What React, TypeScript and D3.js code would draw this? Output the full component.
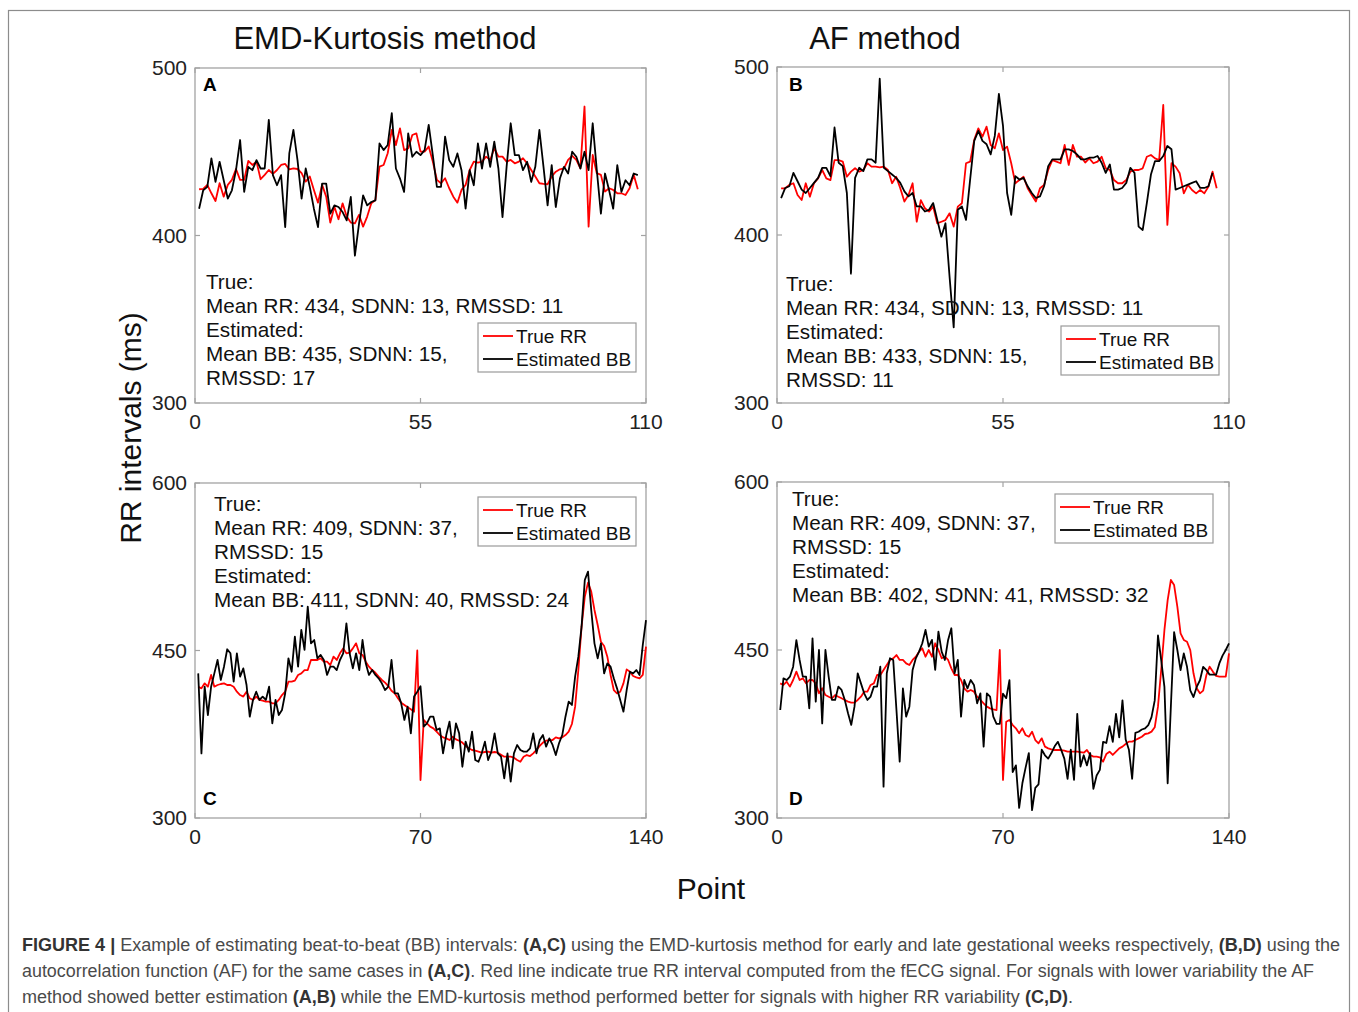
import React from "react";
import * as d3 from "d3";

// ---------- DATA ----------
const A_TRUE = [427.6, 427.8, 430.2, 425.2, 420.6, 431.2, 423.2, 430.2, 433.2, 439.7, 433.2, 433.2, 444.5, 442.1, 444.1, 433.6, 436.2, 439.1, 436.8, 439.1, 442.1, 442.7, 439.5, 440.1, 439.7, 437.2, 432.2, 435.2, 427.2, 419.6, 430.2, 423.2, 407.7, 417.2, 409.7, 419.2, 411.3, 407.7, 407.3, 412.3, 405.3, 411.3, 419.2, 421.2, 441.1, 442.1, 449.1, 463, 454, 464, 451, 452, 460,
  461, 450.1, 450.1, 453.1, 444.1, 433.2, 431.2, 434.2, 428.2, 423.2, 419.6, 427.2, 430.2, 439.1, 444.1, 443.5, 444.1, 447.1, 445.1, 452.1, 447.1, 447.1, 444.1, 445.1, 443.1, 444.1, 446.1, 443.1, 439.1, 435.2, 431.2, 430.8, 430.6, 435.2, 438.1, 439.5, 440.1, 445.1, 447.5, 445.1, 440.1, 477, 405.3, 448.1, 437.2, 436.2, 426.2, 428.2, 427.2, 425.2, 425.2, 424.2, 428.2, 436.2, 427.6];
const A_EST = [416, 427, 429, 446, 432, 444, 433, 422, 427, 439, 457, 426, 441, 439, 445, 440, 440, 469, 436, 430, 436, 405, 449, 463, 445, 422, 440, 429, 416, 405, 431, 431, 413, 418, 417, 414, 409, 423, 388, 407, 424, 418, 420, 421, 455, 451, 454, 473, 440, 434, 426, 461, 447,
  450, 448, 451, 466, 448, 429, 429, 459, 445, 441, 449, 439, 416, 439, 430, 455, 440, 455, 441, 456, 440, 411, 441, 467, 448, 448, 439, 444, 432, 441, 463, 441, 418, 442, 417, 434, 441, 437, 450, 447, 440, 450, 439, 467, 439, 413, 437, 427, 416, 442, 426, 433, 430, 437, 436];

const B_TRUE = [427.8, 427.8, 429.8, 430.8, 423.8, 420.8, 430.8, 422.8, 430.8, 433.7, 438.7, 433.7, 432.7, 444.6, 444.6, 443.7, 434.7, 437.7, 439.7, 437.7, 438.7, 442.7, 440.7, 440.7, 440.3, 440.7, 438.7, 430.8, 434.7, 427.8, 419.9, 423.8, 430.8, 407.9, 420.8, 415.9, 413.9, 416.9, 406.9, 407.9, 408.9, 412.9, 405, 416.9, 418.9, 442.7, 443.7, 456.6, 463.5, 458.5, 464.5, 453.6,
  451.6, 460.5, 450.6, 452.6, 442.7, 430.8, 432.7, 434.7, 427.8, 423.8, 419.9, 427.8, 429.8, 438.7, 444.6, 443.7, 442.7, 453.6, 441.7, 453.6, 446.6, 446.6, 443.1, 445.6, 442.7, 443.7, 446.6, 439.7, 438.7, 432.7, 430.8, 430.8, 432.7, 437.7, 438.7, 438.7, 439.7, 446.6, 447.6, 445.6, 444.6, 477.4, 406, 442.7, 440.7, 436.7, 424.8, 429.8, 426.8, 424.8, 426.8, 424.8, 428.8, 437.7, 427.8];
const B_EST = [422, 428, 429, 437, 432, 427, 425, 428, 431, 434, 440, 440, 435, 464, 443, 441, 425, 377, 434, 440, 438, 445, 445, 443, 493, 440, 438, 436, 434, 431, 426, 423, 425, 417, 417, 414, 415, 419, 409, 399, 407, 375, 345, 415, 417, 409, 433, 456, 462, 456, 454, 448,
  459, 484, 465, 425, 412, 435, 433, 434, 429, 425, 422, 423, 429, 441, 445, 445, 445, 451, 451, 450, 448, 445, 445, 446, 446, 447, 443, 437, 442, 427, 427, 428, 431, 440, 437, 405, 403, 419, 436, 444, 444, 447, 453, 451, 427, 428, 429, 430, 431, 432, 428, 428, 429, 437];

const C_TRUE = [417.6, 416.1, 420.6, 417.6, 428.1, 417.6, 419.1, 420, 420.6, 419.1, 419.1, 417.6, 413.1, 410.1, 408.7, 413.1, 407.2, 405.7, 408.7, 405.7, 405.1, 404.2, 404.2, 402.7, 402.7, 405.7, 410.1, 413.1, 422.1, 422.1, 423, 428.1, 429.5, 432.5, 432.5, 441.5, 441.5, 441.5, 443, 440, 440, 437, 444.5, 441.5, 447.5, 451.9, 447.5, 448.1, 451.9, 456.4, 447.5, 446, 440, 435.5, 432.5, 430.1, 426.6, 423.6, 421.2, 418.2, 414, 411.6, 407.2, 403.3, 401.2, 399.1, 397.3, 395.2, 450, 334,
  387.8, 384.8, 381.8, 380.3, 377.3, 374.3, 372.2, 371.3, 369.8, 372.8, 370.4, 369.2, 367.5, 364.5, 362.4, 360.9, 360.3, 359.4, 358.5, 359.1, 359.4, 358.5, 359.1, 358.5, 356.7, 354.9, 354.9, 354.9, 354, 351.9, 350.4, 354.9, 356.4, 355.5, 357.9, 360.9, 364.5, 367.5, 369.2, 369.8, 369.8, 372.2, 371.3, 372.2, 374.3, 377.3, 384.2, 399.7, 432.5, 471.3, 498.2, 510.8, 502.7, 486.3, 472.8, 457.9, 454, 444.5, 428.1, 414.6, 411.6, 413.1, 420.6, 433.1, 431, 427.2, 426, 425.1, 428.1, 453.4];
const C_EST = [429.5, 357.9, 417.6, 392.2, 417.6, 429.5, 441.5, 423.6, 435.5, 451.1, 447.5, 422.1, 447.5, 426.6, 434, 419.1, 390.7, 405.7, 413.1, 405.7, 408.7, 405.7, 417.6, 384.8, 405.7, 392.2, 396.7, 411.7, 443, 431, 462.4, 435.5, 468.4, 450.5, 489.3, 456.4, 459.4, 443, 446, 441.5, 428.1, 435.5, 435.5, 432.5, 441.5, 447.5, 474.3, 447.5, 434, 447.5, 432.5, 459.4, 438.5, 428.1, 432.5, 428.1, 425.1, 420.6, 414.6, 417.6, 441.5, 411.6, 411.6, 402.7, 387.8, 399.7, 375.8, 408.7, 413, 418,
  381.8, 384.8, 390.7, 390.7, 378.8, 380.3, 357.9, 374.3, 386.3, 362.4, 384.8, 375.8, 345.9, 368.4, 359.4, 377.3, 351.9, 350.4, 357.9, 368.4, 351.9, 359.4, 375.8, 357.9, 354.9, 335.5, 357.9, 332.5, 357.9, 365.4, 360.9, 359.4, 359.4, 362.4, 375.8, 357.9, 369.8, 374.3, 363.9, 371.3, 365.4, 356.4, 366.9, 374.3, 390.7, 404.2, 401.2, 426.6, 444.5, 471.3, 513.1, 520.6, 486.3, 456.4, 443, 456.4, 429.5, 438.5, 435.5, 425.1, 416.1, 405.7, 395.2, 414.6, 431, 429.5, 432.5, 428.1, 454.9, 477.3];

const D_TRUE = [420.2, 418.8, 421.7, 417.3, 423.2, 430.7, 423.2, 424.7, 420.2, 423.2, 423.2, 420.2, 411.3, 415.8, 409.8, 408.3, 406.9, 409.8, 408.3, 406.9, 405.4, 403.9, 403, 403, 405.4, 408.3, 412.8, 412.8, 418.8, 420.2, 427.7, 427.7, 432.2, 436.6, 441.1, 442.6, 445.5, 441.1, 441.1, 438.1, 436.6, 441.1, 444, 448.5, 451.5, 444, 450, 444, 456, 450, 442.6, 444, 441.1, 433.6, 427.7, 427.7, 423.2, 415.8, 412.8, 414.3, 412.8, 408.3, 405.4, 402.4, 399.4, 397.9, 397, 396.4, 450, 334,
  386, 387.5, 383, 380.1, 375.6, 380.1, 374.1, 372.6, 377.1, 369.6, 366.7, 371.1, 363.7, 362.2, 361.3, 360.7, 360.7, 360.7, 360.1, 359.2, 359.2, 359.2, 359.2, 358.9, 358.3, 360.7, 356.3, 354.8, 354.8, 354.2, 350.3, 357.1, 359.2, 356.3, 359.2, 362.2, 363.7, 366.1, 368.2, 368.2, 369.6, 371.1, 372.6, 375, 375.6, 377.1, 381, 399.4, 432.2, 467.9, 494.6, 512.5, 508, 488.7, 464.9, 459, 457.4, 450, 429.2, 415.8, 411.3, 413.7, 427.7, 435.1, 430.7, 426.8, 426.2, 426.2, 426.2, 447];
const D_EST = [396.4, 424.7, 423.2, 426.2, 435.1, 458.9, 441.1, 426.2, 426.2, 397.9, 460.4, 403.9, 450, 384.5, 450, 426.2, 405.4, 405.4, 417.3, 414.3, 405.4, 393.5, 383.1, 399.4, 429.2, 420.2, 411.3, 405.4, 408.4, 417.3, 417.3, 435.1, 328, 429.2, 442.6, 441.1, 396.4, 350.3, 415.8, 390.5, 399.4, 432.2, 442.6, 448.5, 456, 467.9, 453, 459, 432.2, 466.4, 448.5, 441.1, 459, 469.4, 429.2, 441.1, 390.5, 423.2, 415.8, 423.2, 418.8, 402.4, 411.3, 363.7, 411.3, 408.4, 390.5,
  384, 384, 411, 407, 423, 341, 347, 309, 331, 345, 358, 307, 327, 330, 361, 356, 353, 358, 364, 368, 361, 353, 335, 361, 334, 393, 346, 356, 347, 358, 326, 338, 343, 368, 367, 382, 368, 393, 372, 405, 370, 361, 335, 376, 377, 379, 380, 383, 390, 405, 463, 441, 417, 331, 400, 466, 450, 432, 447, 435, 414, 408, 417, 423, 435, 432, 428, 428, 428, 438, 445, 450, 456];

const X_TICKS_AB = [0, 55, 110];
const X_TICKS_CD = [0, 70, 140];
const Y_TICKS_AB = [300, 400, 500];
const Y_TICKS_CD = [300, 450, 600];

const TEXT_A = ["True:", "Mean RR: 434, SDNN: 13, RMSSD: 11", "Estimated:", "Mean BB: 435, SDNN: 15,", "RMSSD: 17"];
const TEXT_B = ["True:", "Mean RR: 434, SDNN: 13, RMSSD: 11", "Estimated:", "Mean BB: 433, SDNN: 15,", "RMSSD: 11"];
const TEXT_C = ["True:", "Mean RR: 409, SDNN: 37,", "RMSSD: 15", "Estimated:", "Mean BB: 411, SDNN: 40, RMSSD: 24"];
const TEXT_D = ["True:", "Mean RR: 409, SDNN: 37,", "RMSSD: 15", "Estimated:", "Mean BB: 402, SDNN: 41, RMSSD: 32"];

const LEGEND_LABELS = ["True RR", "Estimated BB"];
const COLUMN_TITLES = ["EMD-Kurtosis method", "AF method"];

// ---------- LAYOUT ----------
const FONT = "'Liberation Sans', Arial, Helvetica, sans-serif";
const AXIS_COLOR = "#a3a3a3";

const PANELS = [
  { letter: "A", left: 195, top: 68, right: 646, bottom: 403, xMax: 110, xTicks: X_TICKS_AB, yDom: [300, 500], yTicks: Y_TICKS_AB, tr: A_TRUE, es: A_EST, text: TEXT_A, tx: 206, ty: 282, lg: [478, 323], lp: [203, 84] },
  { letter: "B", left: 777, top: 67, right: 1229, bottom: 403, xMax: 110, xTicks: X_TICKS_AB, yDom: [300, 500], yTicks: Y_TICKS_AB, tr: B_TRUE, es: B_EST, text: TEXT_B, tx: 786, ty: 284, lg: [1061, 326], lp: [789, 84] },
  { letter: "C", left: 195, top: 483, right: 646, bottom: 818, xMax: 140, xTicks: X_TICKS_CD, yDom: [300, 600], yTicks: Y_TICKS_CD, tr: C_TRUE, es: C_EST, text: TEXT_C, tx: 214, ty: 504, lg: [478, 497], lp: [203, 798] },
  { letter: "D", left: 777, top: 482, right: 1229, bottom: 818, xMax: 140, xTicks: X_TICKS_CD, yDom: [300, 600], yTicks: Y_TICKS_CD, tr: D_TRUE, es: D_EST, text: TEXT_D, tx: 792, ty: 499, lg: [1055, 494], lp: [789, 798] },
];

function Panel({ p }: { p: any }) {
  const x = d3.scaleLinear().domain([0, p.xMax]).range([p.left, p.right]);
  const y = d3.scaleLinear().domain(p.yDom).range([p.bottom, p.top]);
  const line = d3.line<number>().x((_, i) => x(i + 1)).y((d) => y(d));
  const tl = 5;
  const [lx, ly] = p.lg;
  return (
    <g>
      <rect x={p.left} y={p.top} width={p.right - p.left} height={p.bottom - p.top} fill="#fff" stroke={AXIS_COLOR} strokeWidth={1.3} />
      {p.xTicks.map((t: number) => (
        <g key={"x" + t}>
          <line x1={x(t)} x2={x(t)} y1={p.bottom} y2={p.bottom - tl} stroke={AXIS_COLOR} strokeWidth={1.2} />
          <line x1={x(t)} x2={x(t)} y1={p.top} y2={p.top + tl} stroke={AXIS_COLOR} strokeWidth={1.2} />
          <text x={x(t)} y={p.bottom + 26} textAnchor="middle" fontSize={21} fill="#222">{t}</text>
        </g>
      ))}
      {p.yTicks.map((t: number) => (
        <g key={"y" + t}>
          <line x1={p.left} x2={p.left + tl} y1={y(t)} y2={y(t)} stroke={AXIS_COLOR} strokeWidth={1.2} />
          <line x1={p.right} x2={p.right - tl} y1={y(t)} y2={y(t)} stroke={AXIS_COLOR} strokeWidth={1.2} />
          <text x={p.left - 8} y={y(t) + 7} textAnchor="end" fontSize={21} fill="#222">{t}</text>
        </g>
      ))}
      <path d={line(p.tr) || ""} fill="none" stroke="#ff0000" strokeWidth={1.8} strokeLinejoin="round" />
      <path d={line(p.es) || ""} fill="none" stroke="#000" strokeWidth={1.8} strokeLinejoin="round" />
      <text x={p.lp[0]} y={p.lp[1] + 7} fontSize={19} fontWeight="bold" fill="#000">{p.letter}</text>
      {p.text.map((s: string, i: number) => (
        <text key={i} x={p.tx} y={p.ty + i * 24 + 7} fontSize={20.7} fill="#111">{s}</text>
      ))}
      <rect x={lx} y={ly} width={158} height={49} fill="#fff" stroke="#9a9a9a" strokeWidth={1.2} />
      <line x1={lx + 5} x2={lx + 35} y1={ly + 13} y2={ly + 13} stroke="#ff0000" strokeWidth={1.8} />
      <line x1={lx + 5} x2={lx + 35} y1={ly + 36} y2={ly + 36} stroke="#000" strokeWidth={1.8} />
      <text x={lx + 38} y={ly + 13 + 7} fontSize={19} fill="#111">{LEGEND_LABELS[0]}</text>
      <text x={lx + 38} y={ly + 36 + 7} fontSize={19} fill="#111">{LEGEND_LABELS[1]}</text>
    </g>
  );
}

export default function App() {
  return (
    <svg width={1358} height={1012} style={{ position: "absolute", left: 0, top: 0, background: "#fff" }} fontFamily={FONT}>
      <rect x={0} y={0} width={1358} height={1012} fill="#fff" />
      <rect x={8.5} y={10.5} width={1341} height={1030} fill="none" stroke="#8c8c8c" strokeWidth={1.2} />
      <text x={385} y={49} textAnchor="middle" fontSize={31} fill="#111">{COLUMN_TITLES[0]}</text>
      <text x={885} y={49} textAnchor="middle" fontSize={31} fill="#111">{COLUMN_TITLES[1]}</text>
      <text transform="translate(141,428) rotate(-90)" textAnchor="middle" fontSize={30} fill="#111">RR intervals (ms)</text>
      <text x={711} y={899} textAnchor="middle" fontSize={30} fill="#111">Point</text>
      {PANELS.map((p) => <Panel key={p.letter} p={p} />)}
      <g fontSize={17.5} fill="#4a4a4a">
        <text x={22} y={951} textLength={1318} lengthAdjust="spacingAndGlyphs">
          <tspan fontWeight="bold" fill="#333">FIGURE 4 |</tspan> Example of estimating beat-to-beat (BB) intervals: <tspan fontWeight="bold" fill="#333">(A,C)</tspan> using the EMD-kurtosis method for early and late gestational weeks respectively, <tspan fontWeight="bold" fill="#333">(B,D)</tspan> using the
        </text>
        <text x={22} y={977} textLength={1292} lengthAdjust="spacingAndGlyphs">
          autocorrelation function (AF) for the same cases in <tspan fontWeight="bold" fill="#333">(A,C)</tspan>. Red line indicate true RR interval computed from the fECG signal. For signals with lower variability the AF
        </text>
        <text x={22} y={1003} textLength={1051} lengthAdjust="spacingAndGlyphs">
          method showed better estimation <tspan fontWeight="bold" fill="#333">(A,B)</tspan> while the EMD-kurtosis method performed better for signals with higher RR variability <tspan fontWeight="bold" fill="#333">(C,D)</tspan>.
        </text>
      </g>
    </svg>
  );
}
